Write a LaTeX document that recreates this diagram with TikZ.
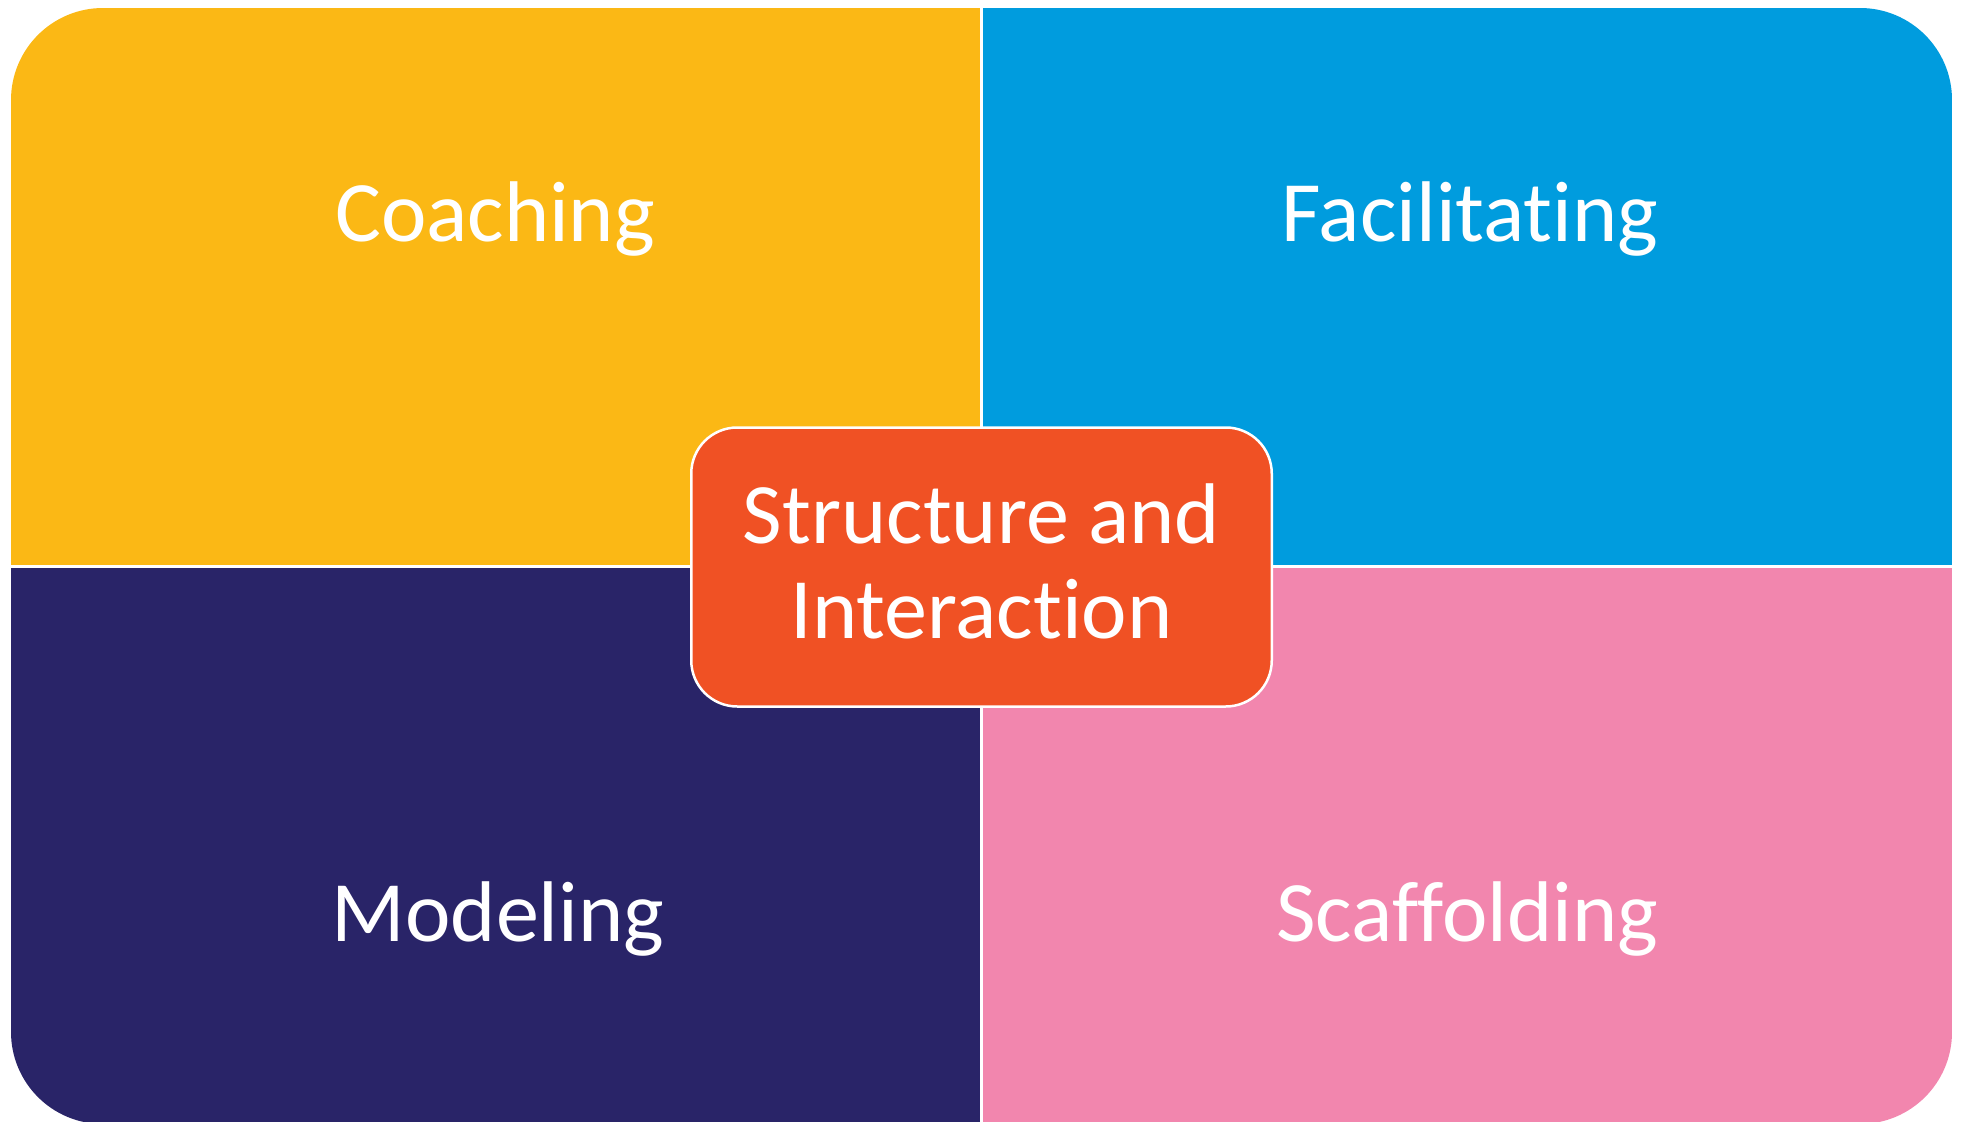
\documentclass[tikz,border=0pt]{standalone}
\usepackage{fontspec}
\setmainfont[Ligatures=NoCommon]{Carlito}
\definecolor{coachcol}{RGB}{251,184,21}
\definecolor{facilcol}{RGB}{0,156,222}
\definecolor{modelcol}{RGB}{41,36,104}
\definecolor{scaffcol}{RGB}{242,134,174}
\definecolor{corecol}{RGB}{240,81,36}
\begin{document}
\begin{tikzpicture}[x=0.1mm,y=-0.1mm,
  lbl/.style={text=white,anchor=base,font=\fontsize{24.5}{27}\selectfont},
  corebox/.style={draw=white,line width=0.25mm,fill=corecol,rounded corners=4.6mm,
    minimum width=58.05mm,minimum height=27.9mm,align=center,text=white,text depth=1.1mm,
    font=\fontsize{24.5}{27}\selectfont}]
\useasboundingbox (0,0) rectangle (1961,1122);
\begin{scope}
\clip[rounded corners=9.2mm] (11,8) rectangle (1952,1124);
\fill[coachcol] (11,8) rectangle (981.5,566);
\fill[facilcol] (981.5,8) rectangle (1952,566);
\fill[modelcol] (11,566) rectangle (981.5,1124);
\fill[scaffcol] (981.5,566) rectangle (1952,1124);
\end{scope}
\draw[white,line width=0.3mm] (981.5,0) -- (981.5,1130);
\draw[white,line width=0.3mm] (0,566) -- (1961,566);
\node[lbl] (coach) at (495,241){Coaching};
\node[lbl] (facil) at (1470,241){Facilitating};
\node[lbl] (model) at (498,941){Modeling};
\node[lbl] (scaff) at (1467,941){Scaffolding};
\node[corebox] (core) at (981.5,567){Structure and\\Interaction};
\end{tikzpicture}
\end{document}
